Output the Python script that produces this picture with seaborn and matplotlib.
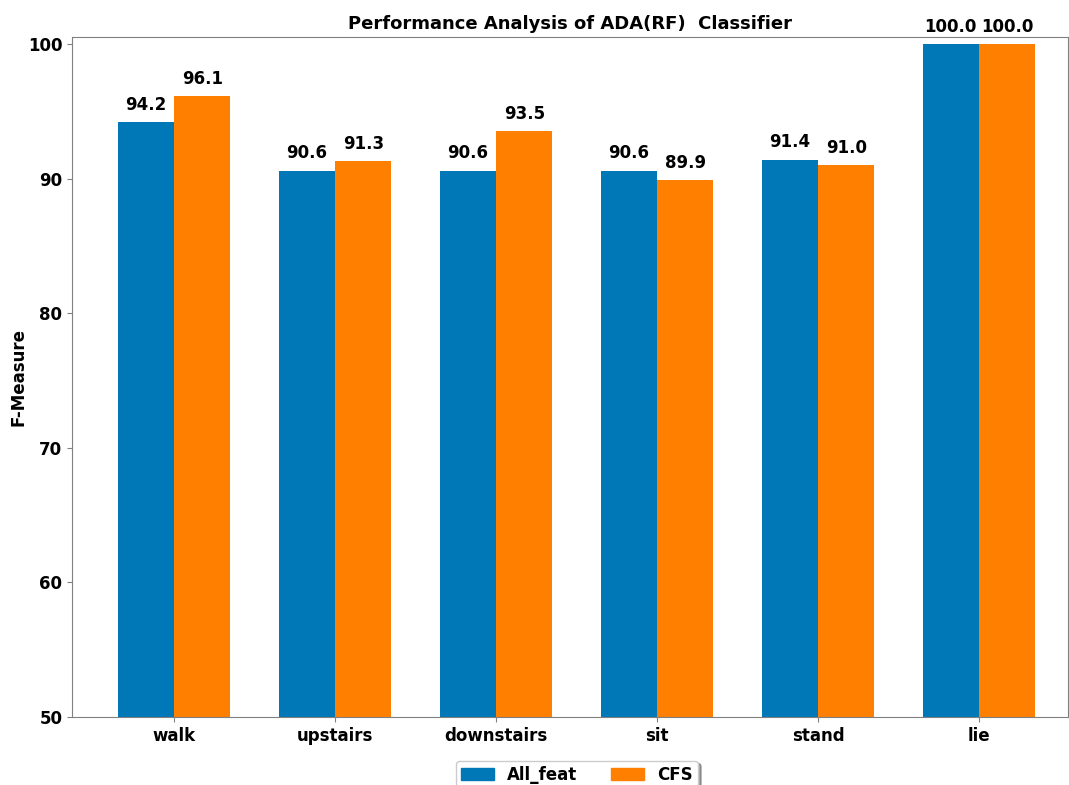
import pandas as pd
import matplotlib
matplotlib.use("Agg")
import matplotlib.pyplot as plt
import seaborn as sns

# data
activities = ["walk", "upstairs", "downstairs", "sit", "stand", "lie"]
all_feat = [94.2, 90.6, 90.6, 90.6, 91.4, 100.0]
cfs = [96.1, 91.3, 93.5, 89.9, 91.0, 100.0]
methods = ["All_feat", "CFS"]
colors = ["#0077b6", "#ff7f00"]

df = pd.DataFrame({
    "activity": activities * 2,
    "value": all_feat + cfs,
    "method": [methods[0]] * len(activities) + [methods[1]] * len(activities),
})

fig = plt.figure(figsize=(10.69, 7.85), dpi=100)
ax = fig.add_axes([72 / 1069, 1 - 717 / 785, (1068 - 72) / 1069, (717 - 37) / 785])

sns.barplot(data=df, x="activity", y="value", hue="method", order=activities,
            hue_order=methods, palette=colors, width=0.7, saturation=1,
            ax=ax, legend=False)

for cont in ax.containers:
    ax.bar_label(cont, fmt="%.1f", padding=6, fontsize=12, fontweight="bold")

ax.set_ylim(50, 100.52)
ax.set_xlim(-0.634, 5.553)
ax.set_yticks([50, 60, 70, 80, 90, 100])

ax.set_title("Performance Analysis of ADA(RF)  Classifier", fontsize=13, fontweight="bold")
ax.set_ylabel("F-Measure", fontsize=12, fontweight="bold", labelpad=0)
ax.set_xlabel("")
for lbl in ax.get_xticklabels() + ax.get_yticklabels():
    lbl.set_fontsize(12)
    lbl.set_fontweight("bold")

for sp in ax.spines.values():
    sp.set_color("#808080")
ax.tick_params(color="#808080")

# legend sits below the axes, partly cut by the figure edge as in the original
handles = [plt.Rectangle((0, 0), 1, 1, color=c) for c in colors]
ax.legend(handles, methods, loc="upper center", bbox_to_anchor=(0.507, -0.052),
          ncol=2, prop={"size": 12, "weight": "bold"}, shadow=True,
          borderpad=0.3)

fig.savefig("out.png", dpi=100)
